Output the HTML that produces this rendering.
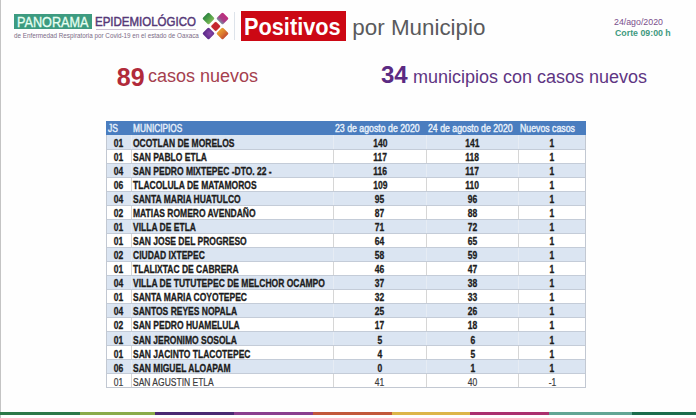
<!DOCTYPE html>
<html><head><meta charset="utf-8">
<style>
html,body{margin:0;padding:0;}
body{width:696px;height:418px;position:relative;overflow:hidden;background:#fefefe;font-family:"Liberation Sans",sans-serif;}
.a{position:absolute;white-space:nowrap;}
.lb{left:0;top:0;width:1px;height:418px;background:#c4c4c4;}
#pan{left:14px;top:13.5px;width:78px;height:15.5px;background:#3d9b80;}
#pantx{left:17px;top:12.8px;font-size:14px;line-height:18px;color:#e6fff2;transform:scaleX(0.905);-webkit-text-stroke:0.3px #e6fff2;transform-origin:0 0;}
#epi{left:95px;top:13.3px;font-size:13.7px;line-height:18px;color:#553877;transform:scaleX(0.84);-webkit-text-stroke:0.5px #553877;transform-origin:0 0;}
#epiline{left:96px;top:29px;width:100px;height:1px;background:#cbbfd2;}
#sub{left:14px;top:31px;font-size:6.3px;line-height:9px;color:#7b6b86;}
.dm{position:absolute;width:9px;height:9px;border-radius:1.5px;transform:rotate(45deg);}
#vl{left:234px;top:12px;width:1px;height:28px;background:#dde3ea;}
#pos{left:240.5px;top:10.5px;width:105.2px;height:30.8px;background:#cc0814;}
#postx{left:243.6px;top:13.3px;font-size:23.5px;line-height:28px;font-weight:bold;color:#fff;transform:scaleX(0.925);transform-origin:0 0;}
#mun{left:352.3px;top:13.8px;font-size:22.4px;line-height:28px;color:#5a5a5c;}
#date{left:614px;top:17.3px;font-size:8.8px;line-height:11px;color:#7a4f8c;}
#corte{left:615px;top:27.7px;font-size:8.8px;line-height:11px;font-weight:bold;color:#3e9a80;}
#n89{left:116.8px;top:62.7px;font-size:25px;line-height:28px;font-weight:bold;color:#b12a3a;}
#c89{left:148px;top:64px;font-size:18px;line-height:24px;color:#a5404e;}
#n34{left:381px;top:61.3px;font-size:24px;line-height:28px;font-weight:bold;color:#5b2a83;}
#c34{left:413px;top:64.7px;font-size:18px;line-height:24px;color:#5e3583;}
#tbl{left:106px;top:121.5px;width:479.5px;}
.row{position:absolute;left:0;width:479.5px;height:14px;}
.hd{background:#4a7dbf;color:#f2f6fb;height:13.7px;}
.odd{background:#dde6f1;}
.ev{background:#fefefe;}
.c{position:absolute;top:0;height:14px;line-height:14px;font-size:10px;white-space:nowrap;}
.b{font-weight:bold;color:#1c1c1c;-webkit-text-stroke:0.3px #1c1c1c;}
.n{color:#3c3c3c;-webkit-text-stroke:0.2px #3c3c3c;}
.sx{display:inline-block;transform:scaleX(0.85);}
.lft .sx{transform-origin:0 50%;}
.ctr{text-align:center;}
.h{color:#e8f0fb;-webkit-text-stroke:0.4px #e8f0fb;}
.hw .sx{transform:scaleX(0.875);}
.hm .sx{transform:scaleX(0.83);}
.hl{height:1px;background:#c4ccd8;}
.vsep{width:1px;background:#dcdcdc;}
.obrd{box-sizing:border-box;border:1px solid #c2c8d2;border-top:none;}
.ctr .sx{transform-origin:50% 50%;}
</style></head><body>
<div class="a lb"></div>
<div class="a" id="pan"></div>
<div class="a" id="pantx">PANORAMA</div>
<div class="a" id="epi">EPIDEMIOLÓGICO</div>
<div class="a" id="epiline"></div>
<div class="a" id="sub">de Enfermedad Respiratoria por Covid-19 en el estado de Oaxaca</div>
<div class="dm" style="left:204.2px;top:14.2px;background:linear-gradient(to right,#2e8440,#4fa048 50%,#80b858);"></div>
<div class="dm" style="left:217.6px;top:14.2px;background:linear-gradient(to bottom,#c02c7c,#a83c86 60%,#7890a0);"></div>
<div class="dm" style="left:204.4px;top:28.5px;background:radial-gradient(circle at 60% 40%,#8a48a8,#5c2a8a 75%);"></div>
<div class="dm" style="left:217.6px;top:28.5px;background:linear-gradient(to right,#e8a030,#dc7c2e 50%,#c44c30);"></div>
<div class="dm" style="left:211.9px;top:22.6px;width:7.4px;height:7.4px;border-radius:1.2px;background:#c4262e;box-shadow:0 0 0 0.6px #fde8e0;"></div>
<div class="a" id="vl"></div>
<div class="a" id="pos"></div>
<div class="a" id="postx">Positivos</div>
<div class="a" id="mun">por Municipio</div>
<div class="a" id="date">24/ago/2020</div>
<div class="a" id="corte">Corte 09:00 h</div>
<div class="a" id="n89">89</div>
<div class="a" id="c89">casos nuevos</div>
<div class="a" id="n34">34</div>
<div class="a" id="c34">municipios con casos nuevos</div>
<div class="a hd" style="left:106.3px;top:121.0px;width:479.3px;height:14.2px;"></div>
<div class="c lft h" style="left:107.8px;top:121.85px;width:23.500000000000014px;height:14.2px;line-height:14.2px;"><span class="sx">JS</span></div>
<div class="c lft h hm" style="left:133.10000000000002px;top:121.85px;width:200.2px;height:14.2px;line-height:14.2px;"><span class="sx">MUNICIPIOS</span></div>
<div class="c lft h hw" style="left:334.90000000000003px;top:121.85px;width:91.59999999999997px;height:14.2px;line-height:14.2px;"><span class="sx">23 de agosto de 2020</span></div>
<div class="c lft h hw" style="left:428.1px;top:121.85px;width:90.5px;height:14.2px;line-height:14.2px;"><span class="sx">24 de agosto de 2020</span></div>
<div class="c lft h hw" style="left:520.2px;top:121.85px;width:65.39999999999998px;height:14.2px;line-height:14.2px;"><span class="sx">Nuevos casos</span></div>
<div class="a" style="left:106.3px;top:135.2px;width:479.3px;height:14.03px;background:#dbe5f2;"></div>
<div class="c ctr b" style="left:106.3px;top:137.1px;width:25.000000000000014px;height:14.03px;line-height:14.03px;"><span class="sx">01</span></div>
<div class="c lft b" style="left:133.10000000000002px;top:137.1px;width:200.2px;height:14.03px;line-height:14.03px;"><span class="sx">OCOTLAN DE MORELOS</span></div>
<div class="c ctr b" style="left:333.3px;top:137.1px;width:93.19999999999999px;height:14.03px;line-height:14.03px;"><span class="sx">140</span></div>
<div class="c ctr b" style="left:426.5px;top:137.1px;width:92.10000000000002px;height:14.03px;line-height:14.03px;"><span class="sx">141</span></div>
<div class="c ctr b" style="left:518.6px;top:137.1px;width:67.0px;height:14.03px;line-height:14.03px;"><span class="sx">1</span></div>
<div class="a" style="left:106.3px;top:149.23px;width:479.3px;height:14.03px;background:#ffffff;"></div>
<div class="c ctr b" style="left:106.3px;top:151.13px;width:25.000000000000014px;height:14.03px;line-height:14.03px;"><span class="sx">01</span></div>
<div class="c lft b" style="left:133.10000000000002px;top:151.13px;width:200.2px;height:14.03px;line-height:14.03px;"><span class="sx">SAN PABLO ETLA</span></div>
<div class="c ctr b" style="left:333.3px;top:151.13px;width:93.19999999999999px;height:14.03px;line-height:14.03px;"><span class="sx">117</span></div>
<div class="c ctr b" style="left:426.5px;top:151.13px;width:92.10000000000002px;height:14.03px;line-height:14.03px;"><span class="sx">118</span></div>
<div class="c ctr b" style="left:518.6px;top:151.13px;width:67.0px;height:14.03px;line-height:14.03px;"><span class="sx">1</span></div>
<div class="a" style="left:106.3px;top:163.26px;width:479.3px;height:14.03px;background:#dbe5f2;"></div>
<div class="c ctr b" style="left:106.3px;top:165.16px;width:25.000000000000014px;height:14.03px;line-height:14.03px;"><span class="sx">04</span></div>
<div class="c lft b" style="left:133.10000000000002px;top:165.16px;width:200.2px;height:14.03px;line-height:14.03px;"><span class="sx">SAN PEDRO MIXTEPEC -DTO. 22 -</span></div>
<div class="c ctr b" style="left:333.3px;top:165.16px;width:93.19999999999999px;height:14.03px;line-height:14.03px;"><span class="sx">116</span></div>
<div class="c ctr b" style="left:426.5px;top:165.16px;width:92.10000000000002px;height:14.03px;line-height:14.03px;"><span class="sx">117</span></div>
<div class="c ctr b" style="left:518.6px;top:165.16px;width:67.0px;height:14.03px;line-height:14.03px;"><span class="sx">1</span></div>
<div class="a" style="left:106.3px;top:177.29px;width:479.3px;height:14.03px;background:#ffffff;"></div>
<div class="c ctr b" style="left:106.3px;top:179.19px;width:25.000000000000014px;height:14.03px;line-height:14.03px;"><span class="sx">06</span></div>
<div class="c lft b" style="left:133.10000000000002px;top:179.19px;width:200.2px;height:14.03px;line-height:14.03px;"><span class="sx">TLACOLULA DE MATAMOROS</span></div>
<div class="c ctr b" style="left:333.3px;top:179.19px;width:93.19999999999999px;height:14.03px;line-height:14.03px;"><span class="sx">109</span></div>
<div class="c ctr b" style="left:426.5px;top:179.19px;width:92.10000000000002px;height:14.03px;line-height:14.03px;"><span class="sx">110</span></div>
<div class="c ctr b" style="left:518.6px;top:179.19px;width:67.0px;height:14.03px;line-height:14.03px;"><span class="sx">1</span></div>
<div class="a" style="left:106.3px;top:191.32px;width:479.3px;height:14.03px;background:#dbe5f2;"></div>
<div class="c ctr b" style="left:106.3px;top:193.22px;width:25.000000000000014px;height:14.03px;line-height:14.03px;"><span class="sx">04</span></div>
<div class="c lft b" style="left:133.10000000000002px;top:193.22px;width:200.2px;height:14.03px;line-height:14.03px;"><span class="sx">SANTA MARIA HUATULCO</span></div>
<div class="c ctr b" style="left:333.3px;top:193.22px;width:93.19999999999999px;height:14.03px;line-height:14.03px;"><span class="sx">95</span></div>
<div class="c ctr b" style="left:426.5px;top:193.22px;width:92.10000000000002px;height:14.03px;line-height:14.03px;"><span class="sx">96</span></div>
<div class="c ctr b" style="left:518.6px;top:193.22px;width:67.0px;height:14.03px;line-height:14.03px;"><span class="sx">1</span></div>
<div class="a" style="left:106.3px;top:205.35px;width:479.3px;height:14.03px;background:#ffffff;"></div>
<div class="c ctr b" style="left:106.3px;top:207.25px;width:25.000000000000014px;height:14.03px;line-height:14.03px;"><span class="sx">02</span></div>
<div class="c lft b" style="left:133.10000000000002px;top:207.25px;width:200.2px;height:14.03px;line-height:14.03px;"><span class="sx">MATIAS ROMERO AVENDAÑO</span></div>
<div class="c ctr b" style="left:333.3px;top:207.25px;width:93.19999999999999px;height:14.03px;line-height:14.03px;"><span class="sx">87</span></div>
<div class="c ctr b" style="left:426.5px;top:207.25px;width:92.10000000000002px;height:14.03px;line-height:14.03px;"><span class="sx">88</span></div>
<div class="c ctr b" style="left:518.6px;top:207.25px;width:67.0px;height:14.03px;line-height:14.03px;"><span class="sx">1</span></div>
<div class="a" style="left:106.3px;top:219.38px;width:479.3px;height:14.03px;background:#dbe5f2;"></div>
<div class="c ctr b" style="left:106.3px;top:221.28px;width:25.000000000000014px;height:14.03px;line-height:14.03px;"><span class="sx">01</span></div>
<div class="c lft b" style="left:133.10000000000002px;top:221.28px;width:200.2px;height:14.03px;line-height:14.03px;"><span class="sx">VILLA DE ETLA</span></div>
<div class="c ctr b" style="left:333.3px;top:221.28px;width:93.19999999999999px;height:14.03px;line-height:14.03px;"><span class="sx">71</span></div>
<div class="c ctr b" style="left:426.5px;top:221.28px;width:92.10000000000002px;height:14.03px;line-height:14.03px;"><span class="sx">72</span></div>
<div class="c ctr b" style="left:518.6px;top:221.28px;width:67.0px;height:14.03px;line-height:14.03px;"><span class="sx">1</span></div>
<div class="a" style="left:106.3px;top:233.41px;width:479.3px;height:14.03px;background:#ffffff;"></div>
<div class="c ctr b" style="left:106.3px;top:235.31px;width:25.000000000000014px;height:14.03px;line-height:14.03px;"><span class="sx">01</span></div>
<div class="c lft b" style="left:133.10000000000002px;top:235.31px;width:200.2px;height:14.03px;line-height:14.03px;"><span class="sx">SAN JOSE DEL PROGRESO</span></div>
<div class="c ctr b" style="left:333.3px;top:235.31px;width:93.19999999999999px;height:14.03px;line-height:14.03px;"><span class="sx">64</span></div>
<div class="c ctr b" style="left:426.5px;top:235.31px;width:92.10000000000002px;height:14.03px;line-height:14.03px;"><span class="sx">65</span></div>
<div class="c ctr b" style="left:518.6px;top:235.31px;width:67.0px;height:14.03px;line-height:14.03px;"><span class="sx">1</span></div>
<div class="a" style="left:106.3px;top:247.44px;width:479.3px;height:14.03px;background:#dbe5f2;"></div>
<div class="c ctr b" style="left:106.3px;top:249.34px;width:25.000000000000014px;height:14.03px;line-height:14.03px;"><span class="sx">02</span></div>
<div class="c lft b" style="left:133.10000000000002px;top:249.34px;width:200.2px;height:14.03px;line-height:14.03px;"><span class="sx">CIUDAD IXTEPEC</span></div>
<div class="c ctr b" style="left:333.3px;top:249.34px;width:93.19999999999999px;height:14.03px;line-height:14.03px;"><span class="sx">58</span></div>
<div class="c ctr b" style="left:426.5px;top:249.34px;width:92.10000000000002px;height:14.03px;line-height:14.03px;"><span class="sx">59</span></div>
<div class="c ctr b" style="left:518.6px;top:249.34px;width:67.0px;height:14.03px;line-height:14.03px;"><span class="sx">1</span></div>
<div class="a" style="left:106.3px;top:261.46999999999997px;width:479.3px;height:14.03px;background:#ffffff;"></div>
<div class="c ctr b" style="left:106.3px;top:263.36999999999995px;width:25.000000000000014px;height:14.03px;line-height:14.03px;"><span class="sx">01</span></div>
<div class="c lft b" style="left:133.10000000000002px;top:263.36999999999995px;width:200.2px;height:14.03px;line-height:14.03px;"><span class="sx">TLALIXTAC DE CABRERA</span></div>
<div class="c ctr b" style="left:333.3px;top:263.36999999999995px;width:93.19999999999999px;height:14.03px;line-height:14.03px;"><span class="sx">46</span></div>
<div class="c ctr b" style="left:426.5px;top:263.36999999999995px;width:92.10000000000002px;height:14.03px;line-height:14.03px;"><span class="sx">47</span></div>
<div class="c ctr b" style="left:518.6px;top:263.36999999999995px;width:67.0px;height:14.03px;line-height:14.03px;"><span class="sx">1</span></div>
<div class="a" style="left:106.3px;top:275.49999999999994px;width:479.3px;height:14.03px;background:#dbe5f2;"></div>
<div class="c ctr b" style="left:106.3px;top:277.3999999999999px;width:25.000000000000014px;height:14.03px;line-height:14.03px;"><span class="sx">04</span></div>
<div class="c lft b" style="left:133.10000000000002px;top:277.3999999999999px;width:200.2px;height:14.03px;line-height:14.03px;"><span class="sx">VILLA DE TUTUTEPEC DE MELCHOR OCAMPO</span></div>
<div class="c ctr b" style="left:333.3px;top:277.3999999999999px;width:93.19999999999999px;height:14.03px;line-height:14.03px;"><span class="sx">37</span></div>
<div class="c ctr b" style="left:426.5px;top:277.3999999999999px;width:92.10000000000002px;height:14.03px;line-height:14.03px;"><span class="sx">38</span></div>
<div class="c ctr b" style="left:518.6px;top:277.3999999999999px;width:67.0px;height:14.03px;line-height:14.03px;"><span class="sx">1</span></div>
<div class="a" style="left:106.3px;top:289.5299999999999px;width:479.3px;height:14.03px;background:#ffffff;"></div>
<div class="c ctr b" style="left:106.3px;top:291.4299999999999px;width:25.000000000000014px;height:14.03px;line-height:14.03px;"><span class="sx">01</span></div>
<div class="c lft b" style="left:133.10000000000002px;top:291.4299999999999px;width:200.2px;height:14.03px;line-height:14.03px;"><span class="sx">SANTA MARIA COYOTEPEC</span></div>
<div class="c ctr b" style="left:333.3px;top:291.4299999999999px;width:93.19999999999999px;height:14.03px;line-height:14.03px;"><span class="sx">32</span></div>
<div class="c ctr b" style="left:426.5px;top:291.4299999999999px;width:92.10000000000002px;height:14.03px;line-height:14.03px;"><span class="sx">33</span></div>
<div class="c ctr b" style="left:518.6px;top:291.4299999999999px;width:67.0px;height:14.03px;line-height:14.03px;"><span class="sx">1</span></div>
<div class="a" style="left:106.3px;top:303.5599999999999px;width:479.3px;height:14.03px;background:#dbe5f2;"></div>
<div class="c ctr b" style="left:106.3px;top:305.45999999999987px;width:25.000000000000014px;height:14.03px;line-height:14.03px;"><span class="sx">04</span></div>
<div class="c lft b" style="left:133.10000000000002px;top:305.45999999999987px;width:200.2px;height:14.03px;line-height:14.03px;"><span class="sx">SANTOS REYES NOPALA</span></div>
<div class="c ctr b" style="left:333.3px;top:305.45999999999987px;width:93.19999999999999px;height:14.03px;line-height:14.03px;"><span class="sx">25</span></div>
<div class="c ctr b" style="left:426.5px;top:305.45999999999987px;width:92.10000000000002px;height:14.03px;line-height:14.03px;"><span class="sx">26</span></div>
<div class="c ctr b" style="left:518.6px;top:305.45999999999987px;width:67.0px;height:14.03px;line-height:14.03px;"><span class="sx">1</span></div>
<div class="a" style="left:106.3px;top:317.58999999999986px;width:479.3px;height:14.03px;background:#ffffff;"></div>
<div class="c ctr b" style="left:106.3px;top:319.48999999999984px;width:25.000000000000014px;height:14.03px;line-height:14.03px;"><span class="sx">02</span></div>
<div class="c lft b" style="left:133.10000000000002px;top:319.48999999999984px;width:200.2px;height:14.03px;line-height:14.03px;"><span class="sx">SAN PEDRO HUAMELULA</span></div>
<div class="c ctr b" style="left:333.3px;top:319.48999999999984px;width:93.19999999999999px;height:14.03px;line-height:14.03px;"><span class="sx">17</span></div>
<div class="c ctr b" style="left:426.5px;top:319.48999999999984px;width:92.10000000000002px;height:14.03px;line-height:14.03px;"><span class="sx">18</span></div>
<div class="c ctr b" style="left:518.6px;top:319.48999999999984px;width:67.0px;height:14.03px;line-height:14.03px;"><span class="sx">1</span></div>
<div class="a" style="left:106.3px;top:331.61999999999983px;width:479.3px;height:14.03px;background:#dbe5f2;"></div>
<div class="c ctr b" style="left:106.3px;top:333.5199999999998px;width:25.000000000000014px;height:14.03px;line-height:14.03px;"><span class="sx">01</span></div>
<div class="c lft b" style="left:133.10000000000002px;top:333.5199999999998px;width:200.2px;height:14.03px;line-height:14.03px;"><span class="sx">SAN JERONIMO SOSOLA</span></div>
<div class="c ctr b" style="left:333.3px;top:333.5199999999998px;width:93.19999999999999px;height:14.03px;line-height:14.03px;"><span class="sx">5</span></div>
<div class="c ctr b" style="left:426.5px;top:333.5199999999998px;width:92.10000000000002px;height:14.03px;line-height:14.03px;"><span class="sx">6</span></div>
<div class="c ctr b" style="left:518.6px;top:333.5199999999998px;width:67.0px;height:14.03px;line-height:14.03px;"><span class="sx">1</span></div>
<div class="a" style="left:106.3px;top:345.6499999999998px;width:479.3px;height:14.03px;background:#ffffff;"></div>
<div class="c ctr b" style="left:106.3px;top:347.5499999999998px;width:25.000000000000014px;height:14.03px;line-height:14.03px;"><span class="sx">01</span></div>
<div class="c lft b" style="left:133.10000000000002px;top:347.5499999999998px;width:200.2px;height:14.03px;line-height:14.03px;"><span class="sx">SAN JACINTO TLACOTEPEC</span></div>
<div class="c ctr b" style="left:333.3px;top:347.5499999999998px;width:93.19999999999999px;height:14.03px;line-height:14.03px;"><span class="sx">4</span></div>
<div class="c ctr b" style="left:426.5px;top:347.5499999999998px;width:92.10000000000002px;height:14.03px;line-height:14.03px;"><span class="sx">5</span></div>
<div class="c ctr b" style="left:518.6px;top:347.5499999999998px;width:67.0px;height:14.03px;line-height:14.03px;"><span class="sx">1</span></div>
<div class="a" style="left:106.3px;top:359.6799999999998px;width:479.3px;height:14.03px;background:#dbe5f2;"></div>
<div class="c ctr b" style="left:106.3px;top:361.57999999999976px;width:25.000000000000014px;height:14.03px;line-height:14.03px;"><span class="sx">06</span></div>
<div class="c lft b" style="left:133.10000000000002px;top:361.57999999999976px;width:200.2px;height:14.03px;line-height:14.03px;"><span class="sx">SAN MIGUEL ALOAPAM</span></div>
<div class="c ctr b" style="left:333.3px;top:361.57999999999976px;width:93.19999999999999px;height:14.03px;line-height:14.03px;"><span class="sx">0</span></div>
<div class="c ctr b" style="left:426.5px;top:361.57999999999976px;width:92.10000000000002px;height:14.03px;line-height:14.03px;"><span class="sx">1</span></div>
<div class="c ctr b" style="left:518.6px;top:361.57999999999976px;width:67.0px;height:14.03px;line-height:14.03px;"><span class="sx">1</span></div>
<div class="a" style="left:106.3px;top:373.70999999999975px;width:479.3px;height:14.03px;background:#ffffff;"></div>
<div class="c ctr n" style="left:106.3px;top:375.60999999999973px;width:25.000000000000014px;height:14.03px;line-height:14.03px;"><span class="sx">01</span></div>
<div class="c lft n" style="left:133.10000000000002px;top:375.60999999999973px;width:200.2px;height:14.03px;line-height:14.03px;"><span class="sx">SAN AGUSTIN ETLA</span></div>
<div class="c ctr n" style="left:333.3px;top:375.60999999999973px;width:93.19999999999999px;height:14.03px;line-height:14.03px;"><span class="sx">41</span></div>
<div class="c ctr n" style="left:426.5px;top:375.60999999999973px;width:92.10000000000002px;height:14.03px;line-height:14.03px;"><span class="sx">40</span></div>
<div class="c ctr n" style="left:518.6px;top:375.60999999999973px;width:67.0px;height:14.03px;line-height:14.03px;"><span class="sx">-1</span></div>
<div class="a" style="left:130.8px;top:135.2px;width:1px;height:14.03px;background:#e6ecf4;"></div>
<div class="a" style="left:332.8px;top:135.2px;width:1px;height:14.03px;background:#e6ecf4;"></div>
<div class="a" style="left:426.0px;top:135.2px;width:1px;height:14.03px;background:#e6ecf4;"></div>
<div class="a" style="left:518.1px;top:135.2px;width:1px;height:14.03px;background:#e6ecf4;"></div>
<div class="a" style="left:130.8px;top:149.23px;width:1px;height:14.03px;background:#d6d6d6;"></div>
<div class="a" style="left:332.8px;top:149.23px;width:1px;height:14.03px;background:#d6d6d6;"></div>
<div class="a" style="left:426.0px;top:149.23px;width:1px;height:14.03px;background:#d6d6d6;"></div>
<div class="a" style="left:518.1px;top:149.23px;width:1px;height:14.03px;background:#d6d6d6;"></div>
<div class="a" style="left:130.8px;top:163.26px;width:1px;height:14.03px;background:#e6ecf4;"></div>
<div class="a" style="left:332.8px;top:163.26px;width:1px;height:14.03px;background:#e6ecf4;"></div>
<div class="a" style="left:426.0px;top:163.26px;width:1px;height:14.03px;background:#e6ecf4;"></div>
<div class="a" style="left:518.1px;top:163.26px;width:1px;height:14.03px;background:#e6ecf4;"></div>
<div class="a" style="left:130.8px;top:177.29px;width:1px;height:14.03px;background:#d6d6d6;"></div>
<div class="a" style="left:332.8px;top:177.29px;width:1px;height:14.03px;background:#d6d6d6;"></div>
<div class="a" style="left:426.0px;top:177.29px;width:1px;height:14.03px;background:#d6d6d6;"></div>
<div class="a" style="left:518.1px;top:177.29px;width:1px;height:14.03px;background:#d6d6d6;"></div>
<div class="a" style="left:130.8px;top:191.32px;width:1px;height:14.03px;background:#e6ecf4;"></div>
<div class="a" style="left:332.8px;top:191.32px;width:1px;height:14.03px;background:#e6ecf4;"></div>
<div class="a" style="left:426.0px;top:191.32px;width:1px;height:14.03px;background:#e6ecf4;"></div>
<div class="a" style="left:518.1px;top:191.32px;width:1px;height:14.03px;background:#e6ecf4;"></div>
<div class="a" style="left:130.8px;top:205.34999999999997px;width:1px;height:14.03px;background:#d6d6d6;"></div>
<div class="a" style="left:332.8px;top:205.34999999999997px;width:1px;height:14.03px;background:#d6d6d6;"></div>
<div class="a" style="left:426.0px;top:205.34999999999997px;width:1px;height:14.03px;background:#d6d6d6;"></div>
<div class="a" style="left:518.1px;top:205.34999999999997px;width:1px;height:14.03px;background:#d6d6d6;"></div>
<div class="a" style="left:130.8px;top:219.38px;width:1px;height:14.03px;background:#e6ecf4;"></div>
<div class="a" style="left:332.8px;top:219.38px;width:1px;height:14.03px;background:#e6ecf4;"></div>
<div class="a" style="left:426.0px;top:219.38px;width:1px;height:14.03px;background:#e6ecf4;"></div>
<div class="a" style="left:518.1px;top:219.38px;width:1px;height:14.03px;background:#e6ecf4;"></div>
<div class="a" style="left:130.8px;top:233.40999999999997px;width:1px;height:14.03px;background:#d6d6d6;"></div>
<div class="a" style="left:332.8px;top:233.40999999999997px;width:1px;height:14.03px;background:#d6d6d6;"></div>
<div class="a" style="left:426.0px;top:233.40999999999997px;width:1px;height:14.03px;background:#d6d6d6;"></div>
<div class="a" style="left:518.1px;top:233.40999999999997px;width:1px;height:14.03px;background:#d6d6d6;"></div>
<div class="a" style="left:130.8px;top:247.44px;width:1px;height:14.03px;background:#e6ecf4;"></div>
<div class="a" style="left:332.8px;top:247.44px;width:1px;height:14.03px;background:#e6ecf4;"></div>
<div class="a" style="left:426.0px;top:247.44px;width:1px;height:14.03px;background:#e6ecf4;"></div>
<div class="a" style="left:518.1px;top:247.44px;width:1px;height:14.03px;background:#e6ecf4;"></div>
<div class="a" style="left:130.8px;top:261.46999999999997px;width:1px;height:14.03px;background:#d6d6d6;"></div>
<div class="a" style="left:332.8px;top:261.46999999999997px;width:1px;height:14.03px;background:#d6d6d6;"></div>
<div class="a" style="left:426.0px;top:261.46999999999997px;width:1px;height:14.03px;background:#d6d6d6;"></div>
<div class="a" style="left:518.1px;top:261.46999999999997px;width:1px;height:14.03px;background:#d6d6d6;"></div>
<div class="a" style="left:130.8px;top:275.5px;width:1px;height:14.03px;background:#e6ecf4;"></div>
<div class="a" style="left:332.8px;top:275.5px;width:1px;height:14.03px;background:#e6ecf4;"></div>
<div class="a" style="left:426.0px;top:275.5px;width:1px;height:14.03px;background:#e6ecf4;"></div>
<div class="a" style="left:518.1px;top:275.5px;width:1px;height:14.03px;background:#e6ecf4;"></div>
<div class="a" style="left:130.8px;top:289.53px;width:1px;height:14.03px;background:#d6d6d6;"></div>
<div class="a" style="left:332.8px;top:289.53px;width:1px;height:14.03px;background:#d6d6d6;"></div>
<div class="a" style="left:426.0px;top:289.53px;width:1px;height:14.03px;background:#d6d6d6;"></div>
<div class="a" style="left:518.1px;top:289.53px;width:1px;height:14.03px;background:#d6d6d6;"></div>
<div class="a" style="left:130.8px;top:303.55999999999995px;width:1px;height:14.03px;background:#e6ecf4;"></div>
<div class="a" style="left:332.8px;top:303.55999999999995px;width:1px;height:14.03px;background:#e6ecf4;"></div>
<div class="a" style="left:426.0px;top:303.55999999999995px;width:1px;height:14.03px;background:#e6ecf4;"></div>
<div class="a" style="left:518.1px;top:303.55999999999995px;width:1px;height:14.03px;background:#e6ecf4;"></div>
<div class="a" style="left:130.8px;top:317.59px;width:1px;height:14.03px;background:#d6d6d6;"></div>
<div class="a" style="left:332.8px;top:317.59px;width:1px;height:14.03px;background:#d6d6d6;"></div>
<div class="a" style="left:426.0px;top:317.59px;width:1px;height:14.03px;background:#d6d6d6;"></div>
<div class="a" style="left:518.1px;top:317.59px;width:1px;height:14.03px;background:#d6d6d6;"></div>
<div class="a" style="left:130.8px;top:331.62px;width:1px;height:14.03px;background:#e6ecf4;"></div>
<div class="a" style="left:332.8px;top:331.62px;width:1px;height:14.03px;background:#e6ecf4;"></div>
<div class="a" style="left:426.0px;top:331.62px;width:1px;height:14.03px;background:#e6ecf4;"></div>
<div class="a" style="left:518.1px;top:331.62px;width:1px;height:14.03px;background:#e6ecf4;"></div>
<div class="a" style="left:130.8px;top:345.65px;width:1px;height:14.03px;background:#d6d6d6;"></div>
<div class="a" style="left:332.8px;top:345.65px;width:1px;height:14.03px;background:#d6d6d6;"></div>
<div class="a" style="left:426.0px;top:345.65px;width:1px;height:14.03px;background:#d6d6d6;"></div>
<div class="a" style="left:518.1px;top:345.65px;width:1px;height:14.03px;background:#d6d6d6;"></div>
<div class="a" style="left:130.8px;top:359.67999999999995px;width:1px;height:14.03px;background:#e6ecf4;"></div>
<div class="a" style="left:332.8px;top:359.67999999999995px;width:1px;height:14.03px;background:#e6ecf4;"></div>
<div class="a" style="left:426.0px;top:359.67999999999995px;width:1px;height:14.03px;background:#e6ecf4;"></div>
<div class="a" style="left:518.1px;top:359.67999999999995px;width:1px;height:14.03px;background:#e6ecf4;"></div>
<div class="a" style="left:130.8px;top:373.71px;width:1px;height:14.03px;background:#d6d6d6;"></div>
<div class="a" style="left:332.8px;top:373.71px;width:1px;height:14.03px;background:#d6d6d6;"></div>
<div class="a" style="left:426.0px;top:373.71px;width:1px;height:14.03px;background:#d6d6d6;"></div>
<div class="a" style="left:518.1px;top:373.71px;width:1px;height:14.03px;background:#d6d6d6;"></div>
<div class="a hl" style="left:106.3px;top:148.73px;width:479.3px;"></div>
<div class="a hl" style="left:106.3px;top:162.76px;width:479.3px;"></div>
<div class="a hl" style="left:106.3px;top:176.79px;width:479.3px;"></div>
<div class="a hl" style="left:106.3px;top:190.82px;width:479.3px;"></div>
<div class="a hl" style="left:106.3px;top:204.84999999999997px;width:479.3px;"></div>
<div class="a hl" style="left:106.3px;top:218.88px;width:479.3px;"></div>
<div class="a hl" style="left:106.3px;top:232.90999999999997px;width:479.3px;"></div>
<div class="a hl" style="left:106.3px;top:246.94px;width:479.3px;"></div>
<div class="a hl" style="left:106.3px;top:260.96999999999997px;width:479.3px;"></div>
<div class="a hl" style="left:106.3px;top:275.0px;width:479.3px;"></div>
<div class="a hl" style="left:106.3px;top:289.03px;width:479.3px;"></div>
<div class="a hl" style="left:106.3px;top:303.05999999999995px;width:479.3px;"></div>
<div class="a hl" style="left:106.3px;top:317.09px;width:479.3px;"></div>
<div class="a hl" style="left:106.3px;top:331.12px;width:479.3px;"></div>
<div class="a hl" style="left:106.3px;top:345.15px;width:479.3px;"></div>
<div class="a hl" style="left:106.3px;top:359.17999999999995px;width:479.3px;"></div>
<div class="a hl" style="left:106.3px;top:373.21px;width:479.3px;"></div>
<div class="a obrd" style="left:105.8px;top:135.2px;width:480.1px;height:253.23999999999972px;"></div>
<div class="a" style="left:0px;top:411.8px;width:80px;height:3.5px;background:#2c7848;"></div>
<div class="a" style="left:80px;top:411.8px;width:75px;height:3.5px;background:#8aab4a;"></div>
<div class="a" style="left:155px;top:411.8px;width:78.5px;height:3.5px;background:#4a2872;"></div>
<div class="a" style="left:233.5px;top:411.8px;width:79.5px;height:3.5px;background:#8a3e8e;"></div>
<div class="a" style="left:313px;top:411.8px;width:79px;height:3.5px;background:#c2583a;"></div>
<div class="a" style="left:392px;top:411.8px;width:78px;height:3.5px;background:#ddb548;"></div>
<div class="a" style="left:470px;top:411.8px;width:79px;height:3.5px;background:#aa306e;"></div>
<div class="a" style="left:549px;top:411.8px;width:82.5px;height:3.5px;background:#62a594;"></div>
<div class="a" style="left:631.5px;top:411.8px;width:64.5px;height:3.5px;background:#1c6c4c;"></div>
</body></html>
